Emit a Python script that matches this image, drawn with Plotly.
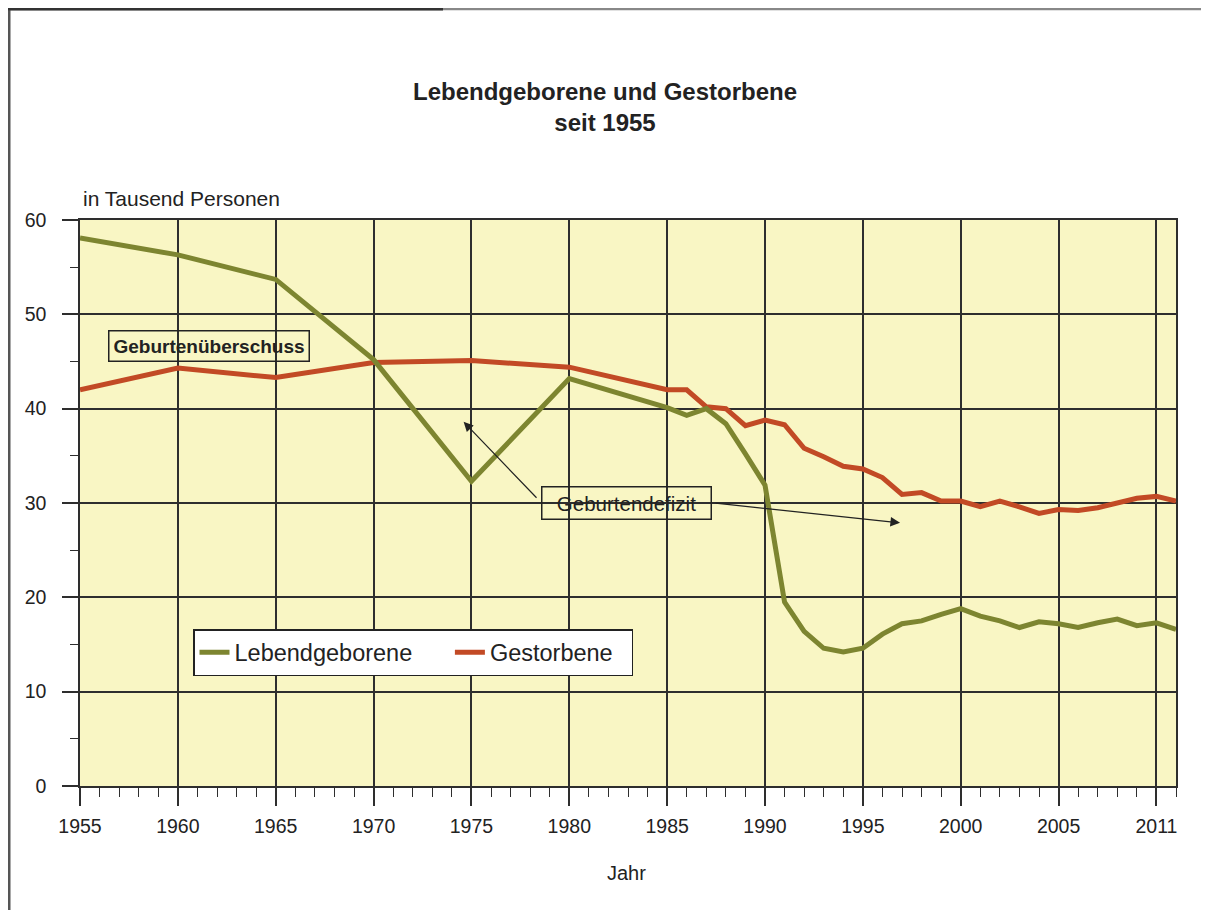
import plotly.graph_objects as go

# Daten (in Tausend Personen)
jahre = [1955, 1960, 1965, 1970, 1975, 1980, 1985, 1986, 1987, 1988, 1989,
         1990, 1991, 1992, 1993, 1994, 1995, 1996, 1997, 1998, 1999, 2000,
         2001, 2002, 2003, 2004, 2005, 2006, 2007, 2008, 2009, 2010, 2011]
lebendgeborene = [58.1, 56.3, 53.7, 45.2, 32.3, 43.2, 40.1, 39.3, 40.0, 38.4, 35.2,
                  31.9, 19.5, 16.4, 14.6, 14.2, 14.6, 16.1, 17.2, 17.5, 18.2, 18.8,
                  18.0, 17.5, 16.8, 17.4, 17.2, 16.8, 17.3, 17.7, 17.0, 17.3, 16.6]
gestorbene = [42.0, 44.3, 43.3, 44.9, 45.1, 44.4, 42.0, 42.0, 40.2, 40.0, 38.2,
              38.8, 38.3, 35.8, 34.9, 33.9, 33.6, 32.7, 30.9, 31.1, 30.2, 30.2,
              29.6, 30.2, 29.6, 28.9, 29.3, 29.2, 29.5, 30.0, 30.5, 30.7, 30.2]

x_tickvals = [1955, 1960, 1965, 1970, 1975, 1980, 1985, 1990, 1995, 2000, 2005, 2010]
x_ticktext = ['1955', '1960', '1965', '1970', '1975', '1980', '1985', '1990',
              '1995', '2000', '2005', '2011']

FONT = 'Liberation Sans, Arial, Helvetica, sans-serif'
GRUEN = '#7D8530'
ROT = '#C24A25'
GITTER = '#2e2e2e'

# Seite hat 8px body-margin -> alles um OFF verschoben
OFF = 8
W, H = 1209, 910
L, T = 72, 212
PW, PH = 1096, 566
R, B = W - L - PW, H - T - PH


def px_x(p):
    # Seitenpixel -> paper-Koordinate
    return (p - OFF - L) / PW


def px_y(p):
    return (OFF + T + PH - p) / PH


fig = go.Figure()

fig.add_trace(go.Scatter(
    x=jahre, y=gestorbene, mode='lines', name='Gestorbene\u00a0\u00a0',
    line=dict(color=ROT, width=5), legendrank=2,
))
fig.add_trace(go.Scatter(
    x=jahre, y=lebendgeborene, mode='lines',
    name='Lebendgeborene\u00a0\u00a0\u00a0\u00a0\u00a0',
    line=dict(color=GRUEN, width=5), legendrank=1,
))

# Beschriftungen im Diagramm
fig.add_annotation(
    x=1961.6, y=46.6, xref='x', yref='y', text='<b>Geburtenüberschuss</b>',
    showarrow=False, font=dict(family=FONT, size=19, color='#222'),
    bordercolor='#222', borderwidth=1.5, borderpad=4,
)
fig.add_annotation(
    x=1982.9, y=30.0, xref='x', yref='y', text='Geburtendefizit',
    showarrow=False, font=dict(family=FONT, size=20.5, color='#222'),
    bordercolor='#222', borderwidth=1.5, borderpad=4, width=160,
)
# Pfeile
for (hx, hy, tx, ty) in [(1974.6, 38.6, 1978.4, 30.4), (1996.9, 27.9, 1987.4, 30.0)]:
    fig.add_annotation(
        x=hx, y=hy, ax=tx, ay=ty, xref='x', yref='y', axref='x', ayref='y',
        text='', showarrow=True, arrowhead=2, arrowsize=1.6, arrowwidth=1.2,
        arrowcolor='#222', standoff=0, startstandoff=0,
    )

# Achsenbeschriftungen
fig.add_annotation(
    x=px_x(81), y=px_y(199), xref='paper', yref='paper', text='in Tausend Personen',
    showarrow=False, xanchor='left', yanchor='middle',
    font=dict(family=FONT, size=21, color='#222'),
)
fig.add_annotation(
    x=px_x(626), y=px_y(873), xref='paper', yref='paper', text='Jahr',
    showarrow=False, xanchor='center', yanchor='middle',
    font=dict(family=FONT, size=20, color='#222'),
)

# Rahmen der Seite
rahmen = [
    (px_x(9), px_y(0), px_x(9), px_y(920), '#555', 3),
    (px_x(0), px_y(9), px_x(1220), px_y(9), '#888', 2.5),
    (px_x(0), px_y(9), px_x(443), px_y(9), '#333', 3),
    (px_x(1206), px_y(0), px_x(1206), px_y(920), '#aaa', 2),
]
for x0, y0, x1, y1, c, w in rahmen:
    fig.add_shape(type='line', xref='paper', yref='paper', x0=x0, y0=y0, x1=x1, y1=y1,
                  line=dict(color=c, width=w), layer='above')

fig.update_layout(
    width=W, height=H,
    margin=dict(l=L, r=R, t=T, b=B, pad=0),
    title=dict(
        text='<b>Lebendgeborene und Gestorbene<br>seit 1955</b>',
        x=(605 - OFF) / W, xref='container', y=1 - 92 / H, yref='container',
        xanchor='center', yanchor='middle',
        font=dict(family=FONT, size=24, color='#222'),
    ),
    paper_bgcolor='white',
    plot_bgcolor='#F9F6C4',
    font=dict(family=FONT, color='#222'),
    showlegend=True,
    legend=dict(
        orientation='h', x=px_x(193), y=px_y(629), xanchor='left', yanchor='top',
        bgcolor='white', bordercolor='#222', borderwidth=1.5,
        font=dict(family=FONT, size=23.5, color='#222'),
    ),
    xaxis=dict(
        range=[1955, 2011], tickmode='array', tickvals=x_tickvals, ticktext=x_ticktext,
        showgrid=True, gridcolor=GITTER, gridwidth=1.5,
        showline=True, linecolor=GITTER, linewidth=1.5, mirror=True,
        ticks='outside', ticklen=18, tickwidth=1.5, tickcolor=GITTER,
        tickfont=dict(family=FONT, size=19.5, color='#222'), ticklabelstandoff=4,
        minor=dict(tickmode='linear', tick0=1955, dtick=1, ticks='outside',
                   ticklen=9, tickwidth=1.2, tickcolor=GITTER, showgrid=False),
        zeroline=False, fixedrange=True,
    ),
    yaxis=dict(
        range=[0, 60], tickmode='linear', tick0=0, dtick=10,
        showgrid=True, gridcolor=GITTER, gridwidth=1.5,
        showline=True, linecolor=GITTER, linewidth=1.5, mirror=True,
        ticks='outside', ticklen=16, tickwidth=1.5, tickcolor=GITTER,
        tickfont=dict(family=FONT, size=19.5, color='#222'), ticklabelstandoff=12,
        minor=dict(tickmode='linear', tick0=5, dtick=10, ticks='outside',
                   ticklen=8, tickwidth=1.2, tickcolor=GITTER, showgrid=False),
        zeroline=False, fixedrange=True,
    ),
)

fig.write_html('out.html')
